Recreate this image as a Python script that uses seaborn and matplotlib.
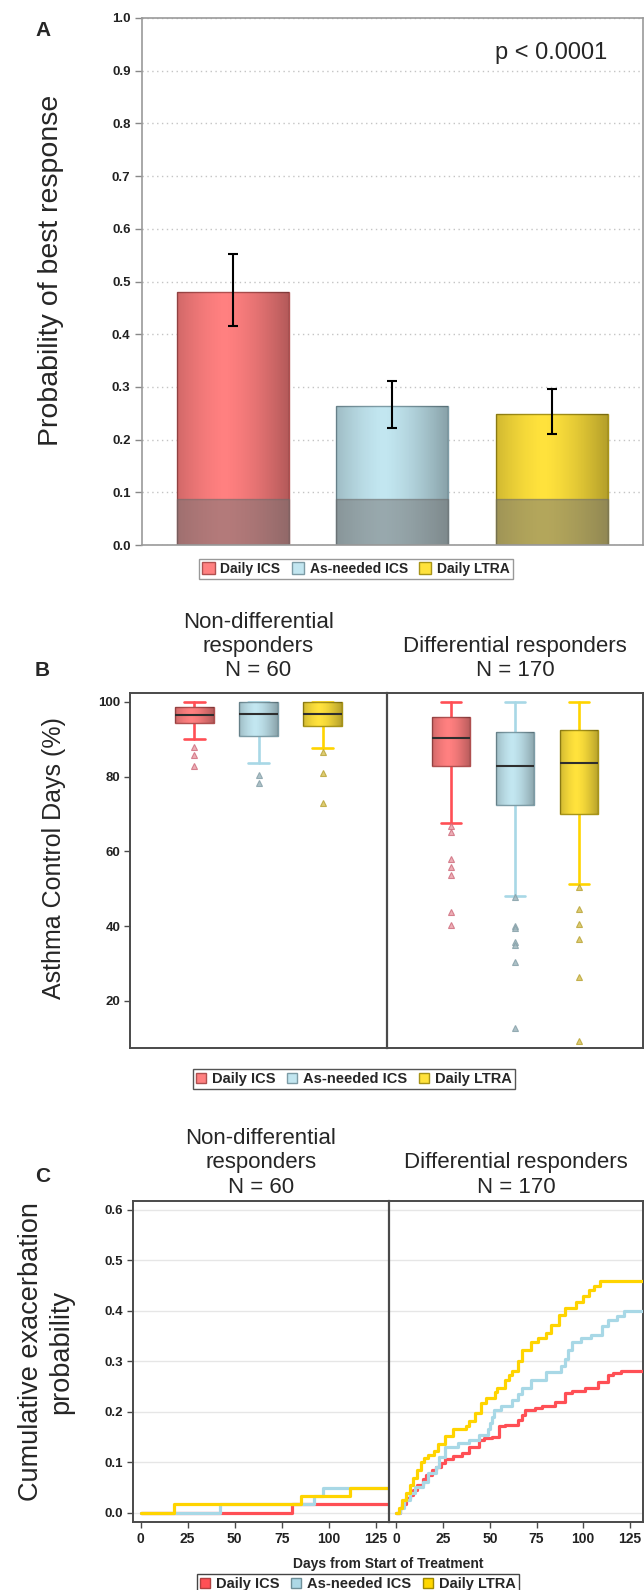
import numpy as np
import matplotlib
matplotlib.use("Agg")
import matplotlib.pyplot as plt
import seaborn as sns
from matplotlib.patches import Patch

sns.set_theme(style="white")
plt.rcParams['font.family'] = ['Liberation Sans', 'DejaVu Sans']

# ---------------- data ----------------
treatments = ["Daily ICS", "As-needed ICS", "Daily LTRA"]

# Panel A
best_prob = [0.481, 0.264, 0.249]
best_ci_low = [0.416, 0.222, 0.210]
best_ci_high = [0.553, 0.312, 0.296]
base_band = [0.087, 0.087, 0.087]
p_text = "p < 0.0001"

# Panel B (box summaries)
nondiff_med = [96.5, 96.8, 96.8]
nondiff_q1 = [94.4, 91.0, 93.6]
nondiff_q3 = [98.7, 100.0, 100.0]
nondiff_lo = [90.0, 83.7, 87.7]
nondiff_hi = [100.0, 100.0, 100.0]
nondiff_fliers = [[88.0, 85.9, 82.9], [80.5, 78.4], [86.7, 81.0, 73.0]]

diff_med = [90.4, 82.9, 83.7]
diff_q1 = [82.9, 72.3, 70.1]
diff_q3 = [96.0, 92.0, 92.5]
diff_lo = [67.7, 48.0, 51.2]
diff_hi = [100.0, 100.0, 100.0]
diff_fliers = [[66.7, 65.1, 57.9, 55.8, 53.6, 43.7, 40.2],
               [47.7, 40.0, 39.6, 35.7, 34.9, 30.4, 12.8],
               [50.4, 44.5, 40.5, 36.5, 26.4, 9.3]]

group_titles = ["Non-differential\nresponders\nN = 60", "Differential responders\nN = 170"]

# Panel C (Kaplan-Meier style step curves)
nd_ics_days = [0, 80.7, 131.5]
nd_ics_prob = [0.0, 0.0167, 0.0167]
nd_asn_days = [0, 42.2, 92.2, 97.2, 131.5]
nd_asn_prob = [0.0, 0.0167, 0.033, 0.05, 0.05]
nd_ltra_days = [0, 17.7, 85.1, 111.3, 131.5]
nd_ltra_prob = [0.0, 0.0167, 0.033, 0.05, 0.05]

d_ics_days = [0, 2, 3, 5, 7, 9, 11, 14, 16, 19, 21, 24, 26, 30, 35, 39, 44, 47, 51, 55, 58, 65,
              67, 69, 74, 78, 85, 90, 94, 101, 108, 113, 116, 120, 132]
d_ics_prob = [0.0, 0.01, 0.018, 0.03, 0.035, 0.045, 0.055, 0.068, 0.075, 0.085, 0.09, 0.098, 0.106,
              0.112, 0.118, 0.131, 0.144, 0.148, 0.151, 0.171, 0.174, 0.184, 0.194, 0.204, 0.208,
              0.212, 0.22, 0.237, 0.242, 0.247, 0.258, 0.273, 0.277, 0.28, 0.28]
d_asn_days = [0, 2, 4, 7, 10, 14, 17, 21, 23, 26, 33, 39, 44, 49, 50, 51, 52, 56, 62, 65, 67, 72,
              80, 88, 90, 92, 94, 99, 104, 110, 113, 118, 122, 132]
d_asn_prob = [0.0, 0.01, 0.025, 0.04, 0.052, 0.062, 0.078, 0.09, 0.111, 0.131, 0.138, 0.144, 0.154,
              0.166, 0.178, 0.19, 0.204, 0.212, 0.224, 0.235, 0.247, 0.263, 0.278, 0.29, 0.305,
              0.323, 0.339, 0.346, 0.352, 0.369, 0.382, 0.39, 0.399, 0.399]
d_ltra_days = [0, 1.5, 3, 5, 7, 9, 11, 13, 15, 17, 20, 22, 26, 30, 37, 39, 42, 45, 48, 53, 54, 58,
               60, 62, 65, 67, 72, 76, 80, 83, 87, 90, 96, 100, 103, 106, 109, 132]
d_ltra_prob = [0.0, 0.01, 0.025, 0.04, 0.055, 0.07, 0.085, 0.1, 0.108, 0.115, 0.122, 0.136, 0.152,
               0.165, 0.172, 0.181, 0.198, 0.217, 0.227, 0.24, 0.247, 0.263, 0.272, 0.28, 0.3,
               0.323, 0.339, 0.345, 0.356, 0.372, 0.392, 0.405, 0.418, 0.43, 0.44, 0.448, 0.458,
               0.458]

day_ticks = [0, 25, 50, 75, 100, 125]

# ---------------- styles ----------------
bar_colors = ["#ff8080", "#c2e6f0", "#ffe23c"]
bar_edges = ["#b05050", "#7d9ca6", "#a89418"]
line_colors = ["#ff4f55", "#a8d8e6", "#ffd400"]
flier_face = ["#eaa0aa", "#9fb6bd", "#d8c25a"]
flier_edge = ["#d07080", "#88a2aa", "#bba63a"]
dark = "#4a4a4a"

fig = plt.figure(figsize=(6.44, 15.9), dpi=100)
W, H = 644.0, 1590.0


def fx(px):
    return px / W


def fy(py):
    return 1 - py / H


def shade(ax, patch, x0, x1, y0, y1, strength=0.30):
    t = np.linspace(0, 1, 160)
    prof = np.clip(np.abs(t - 0.42) / 0.58, 0, 1) ** 1.5
    img = np.zeros((1, 160, 4))
    img[..., 3] = strength * prof
    im = ax.imshow(img, extent=[x0, x1, y0, y1], aspect='auto',
                   interpolation='bilinear', zorder=patch.get_zorder() + 0.05)
    im.set_clip_path(patch)


# ================= Panel A =================
axA = fig.add_axes([fx(141.7), fy(545), fx(643 - 141.7), (545 - 18) / H])
sns.barplot(x=treatments, y=best_prob, hue=treatments, palette=bar_colors, legend=False,
            width=0.7, saturation=1, errorbar=None, ax=axA, linewidth=1.0)
bars = list(axA.patches)
for b, ec in zip(bars, bar_edges):
    b.set_edgecolor(ec)
    shade(axA, b, b.get_x(), b.get_x() + b.get_width(), 0, b.get_height())
sns.barplot(x=treatments, y=base_band, color="#767676", alpha=0.55, width=0.7, saturation=1,
            errorbar=None, ax=axA, linewidth=1.0, edgecolor="#6a6a6a")
for b in axA.patches[len(bars):]:
    b.set_zorder(1.3)
yerr = [np.array(best_prob) - np.array(best_ci_low), np.array(best_ci_high) - np.array(best_prob)]
axA.errorbar([0, 1, 2], best_prob, yerr=yerr, fmt='none', ecolor='black', elinewidth=1.5,
             capsize=3.8, capthick=1.5, zorder=4)
axA.set_xlim(-0.57, 2.57)
axA.set_ylim(0, 1.0)
axA.set_yticks(np.arange(0, 1.01, 0.1))
axA.set_yticklabels([f"{v:.1f}" for v in np.arange(0, 1.01, 0.1)], fontsize=9.5,
                    fontweight='bold', color='#222')
axA.set_xticks([])
axA.set_xlabel("")
axA.set_ylabel("")
axA.set_axisbelow(True)
axA.yaxis.grid(True, linestyle=(0, (1, 2.5)), color='#c4c4c4', linewidth=1)
axA.tick_params(axis='y', direction='out', length=5, width=1, color='#888', pad=3, left=True)
for s in axA.spines.values():
    s.set_color('#9a9a9a')
    s.set_linewidth(1.2)
axA.text(0.8165, 0.9336, p_text, transform=axA.transAxes, ha='center', va='center', fontsize=17)
fig.text(fx(51), fy(270), "Probability of best response", rotation=90, ha='center',
         va='center', fontsize=20.5)
fig.text(fx(43), fy(31), "A", fontsize=15, fontweight='bold', ha='center', va='center')

legA = [Patch(facecolor=c, edgecolor=e, linewidth=1) for c, e in zip(bar_colors, bar_edges)]
fig.legend(legA, treatments, loc='center', bbox_to_anchor=(fx(356), fy(569)),
           bbox_transform=fig.transFigure, ncol=3, frameon=True, fancybox=False,
           edgecolor='#999', framealpha=1, borderpad=0.25, handlelength=0.9, handleheight=0.9,
           handletextpad=0.4, columnspacing=0.8, borderaxespad=0,
           prop=dict(weight='bold', size=10))

# ================= Panel B =================
b_top, b_bot = 693, 1048
axB1 = fig.add_axes([fx(130), fy(b_bot), fx(387 - 130), (b_bot - b_top) / H])
axB2 = fig.add_axes([fx(387), fy(b_bot), fx(643 - 387), (b_bot - b_top) / H])
groupsB = [(axB1, nondiff_med, nondiff_q1, nondiff_q3, nondiff_lo, nondiff_hi, nondiff_fliers),
           (axB2, diff_med, diff_q1, diff_q3, diff_lo, diff_hi, diff_fliers)]
for ax, med, q1, q3, lo, hi, fl in groupsB:
    stats = [dict(med=med[i], q1=q1[i], q3=q3[i], whislo=lo[i], whishi=hi[i], fliers=fl[i])
             for i in range(3)]
    res = ax.bxp(stats, positions=[0, 1, 2], widths=0.6, patch_artist=True, capwidths=0.32,
                 showfliers=True, manage_ticks=False)
    for i in range(3):
        bx = res['boxes'][i]
        bx.set_facecolor(bar_colors[i])
        bx.set_edgecolor(bar_edges[i])
        bx.set_linewidth(1.0)
        bx.set_zorder(2)
        shade(ax, bx, i - 0.3, i + 0.3, q1[i], q3[i])
        for ln in res['whiskers'][2 * i:2 * i + 2] + res['caps'][2 * i:2 * i + 2]:
            ln.set_color(line_colors[i])
            ln.set_linewidth(1.9)
            ln.set_zorder(1.5)
        res['medians'][i].set_color('#2e2e2e')
        res['medians'][i].set_linewidth(1.5)
        res['medians'][i].set_zorder(3)
        f = res['fliers'][i]
        f.set_marker('^')
        f.set_markersize(5)
        f.set_markerfacecolor(flier_face[i])
        f.set_markeredgecolor(flier_edge[i])
        f.set_markeredgewidth(0.8)
        f.set_alpha(0.85)
    ax.set_xlim(-1, 3)
    ax.set_ylim(7.4, 102.4)
    ax.set_xticks([])
    for s in ax.spines.values():
        s.set_color(dark)
        s.set_linewidth(1.4)

axB1.set_yticks([20, 40, 60, 80, 100])
axB1.set_yticklabels(["20", "40", "60", "80", "100"], fontsize=9.5, fontweight='bold', color='#222')
axB1.tick_params(axis='y', direction='out', length=4, width=1, color=dark, pad=3, left=True)
axB1.spines['right'].set_visible(False)
axB2.set_yticks([])
axB2.spines['left'].set_linewidth(1.6)
axB1.set_title(group_titles[0], fontsize=16, pad=12)
axB2.set_title(group_titles[1], fontsize=16, pad=12)
fig.text(fx(54), fy(858), "Asthma Control Days (%)", rotation=90, ha='center', va='center',
         fontsize=18)
fig.text(fx(42), fy(671), "B", fontsize=15, fontweight='bold', ha='center', va='center')

legB = [Patch(facecolor=c, edgecolor=e, linewidth=1) for c, e in zip(bar_colors, bar_edges)]
fig.legend(legB, treatments, loc='center', bbox_to_anchor=(fx(354), fy(1079)),
           bbox_transform=fig.transFigure, ncol=3, frameon=True, fancybox=False,
           edgecolor='#555', framealpha=1, borderpad=0.2, handlelength=0.7, handleheight=0.7,
           handletextpad=0.4, columnspacing=0.8, borderaxespad=0,
           prop=dict(weight='bold', size=10.5))

# ================= Panel C =================
c_top, c_bot = 1201, 1522
axC1 = fig.add_axes([fx(133), fy(c_bot), fx(389 - 133), (c_bot - c_top) / H])
axC2 = fig.add_axes([fx(389), fy(c_bot), fx(643 - 389), (c_bot - c_top) / H])
seriesC = [
    (axC1, [(nd_ics_days, nd_ics_prob), (nd_asn_days, nd_asn_prob), (nd_ltra_days, nd_ltra_prob)]),
    (axC2, [(d_ics_days, d_ics_prob), (d_asn_days, d_asn_prob), (d_ltra_days, d_ltra_prob)]),
]
for ax, ser in seriesC:
    for i, (d, p) in enumerate(ser):
        sns.lineplot(x=d, y=p, ax=ax, color=line_colors[i], linewidth=2.3,
                     drawstyle='steps-post', estimator=None, sort=False, zorder=3 + i)
    ax.set_xlim(-4, 132)
    ax.set_ylim(-0.018, 0.617)
    ax.set_xticks(day_ticks)
    ax.set_xticklabels([str(t) for t in day_ticks], fontsize=10, fontweight='bold', color='#222')
    ax.set_yticks(np.arange(0, 0.61, 0.1))
    ax.set_axisbelow(True)
    ax.yaxis.grid(True, color='#e6e6e6', linewidth=1)
    ax.tick_params(axis='both', direction='out', length=4, width=1, color=dark, pad=3,
                   bottom=True, left=True)
    ax.set_xlabel("")
    ax.set_ylabel("")
    for s in ax.spines.values():
        s.set_color(dark)
        s.set_linewidth(1.4)

axC1.set_yticklabels([f"{v:.1f}" for v in np.arange(0, 0.61, 0.1)], fontsize=9.5,
                     fontweight='bold', color='#222')
axC1.spines['right'].set_visible(False)
axC2.tick_params(axis='y', left=False, labelleft=False)
axC2.spines['left'].set_linewidth(1.6)
axC1.set_title(group_titles[0], fontsize=16, pad=6)
axC2.set_title(group_titles[1], fontsize=16, pad=6)
fig.text(fx(388), fy(1564), "Days from Start of Treatment", ha='center', va='center',
         fontsize=10, fontweight='bold')
fig.text(fx(46), fy(1352), "Cumulative exacerbation\nprobability", rotation=90, ha='center',
         va='center', fontsize=19.5, linespacing=1.2, multialignment='center')
fig.text(fx(43), fy(1176), "C", fontsize=15, fontweight='bold', ha='center', va='center')

legC = [Patch(facecolor=c, edgecolor=e, linewidth=1) for c, e in
        zip(["#ff5055", "#add8e6", "#ffd700"], ["#b04040", "#6f8f99", "#a08a00"])]
fig.legend(legC, treatments, loc='center', bbox_to_anchor=(fx(358), fy(1584)),
           bbox_transform=fig.transFigure, ncol=3, frameon=True, fancybox=False,
           edgecolor='#444', framealpha=1, borderpad=0.2, handlelength=0.7, handleheight=0.7,
           handletextpad=0.4, columnspacing=0.8, borderaxespad=0,
           prop=dict(weight='bold', size=10.5))

fig.savefig("out.png", dpi=100, facecolor='white')
